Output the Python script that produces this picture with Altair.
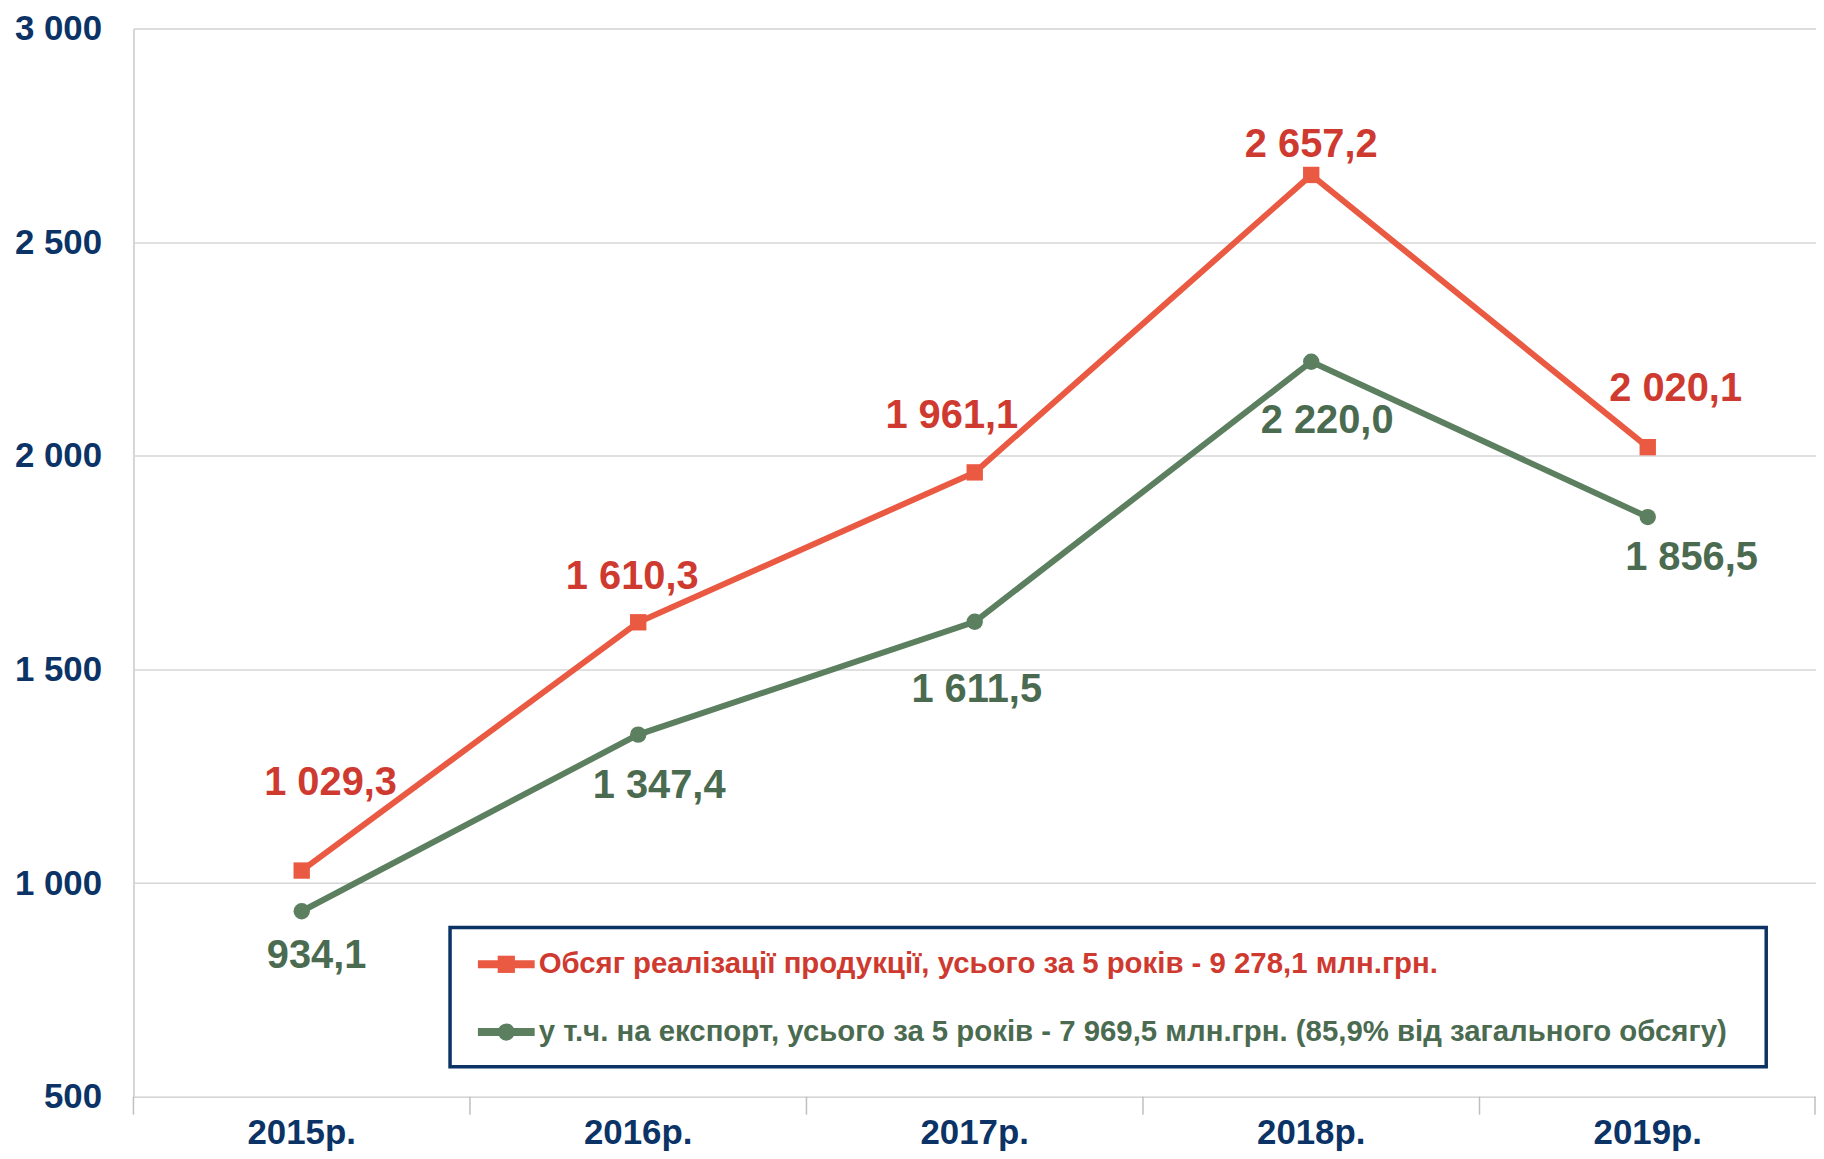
import altair as alt
import pandas as pd

# ---- data ----
years = ["2015р.", "2016р.", "2017р.", "2018р.", "2019р."]
total_sales = [1029.3, 1610.3, 1961.1, 2657.2, 2020.1]
export_sales = [934.1, 1347.4, 1611.5, 2220.0, 1856.5]
series_names = [
    "Обсяг реалізації продукції, усього за 5 років - 9 278,1 млн.грн.",
    "у т.ч. на експорт, усього за 5 років - 7 969,5 млн.грн. (85,9% від загального обсягу)",
]
y_ticks = [500, 1000, 1500, 2000, 2500, 3000]

# ---- style ----
W, H = 1690, 1073
NAVY = "#0B3366"
RED_LINE, RED_TEXT = "#EA5A43", "#CF3A30"
GREEN_LINE, GREEN_TEXT = "#5B7F5F", "#4B6B51"
GRID = "#D6D6D6"
FONT = "Liberation Sans"

# label offsets (pixels) for each point, per series
red_off = [(29, -88), (-6, -45), (-23, -57), (0, -30), (28, -58)]
green_off = [(15, 45), (21, 52), (2, 69), (16, 60), (44, 41)]


def fmt(v):
    return f"{v:,.1f}".replace(",", " ").replace(".", ",")


df = pd.DataFrame({
    "year": years * 2,
    "value": total_sales + export_sales,
    "series": ["total"] * 5 + ["export"] * 5,
    "label": [fmt(v) for v in total_sales + export_sales],
})

xscale = alt.Scale(domain=years, paddingInner=0, paddingOuter=0)
xenc = alt.X("year:N", sort=years, scale=xscale,
             axis=alt.Axis(title=None, ticks=False, domain=False, grid=False,
                           bandPosition=0.5,
                           labelFont=FONT, labelFontSize=35, labelFontWeight="bold",
                           labelColor=NAVY, labelPadding=47, labelAngle=0,
                           labelAlign="center", labelBaseline="alphabetic"))
yenc = alt.Y("value:Q",
             scale=alt.Scale(domain=[500, 3000], nice=False, zero=False),
             axis=alt.Axis(title=None, values=y_ticks, ticks=False,
                           domain=True, domainColor=GRID, domainWidth=2,
                           grid=True, gridColor=GRID, gridWidth=1.5,
                           labelFont=FONT, labelFontSize=35, labelFontWeight="bold",
                           labelColor=NAVY, labelPadding=32,
                           labelExpr="replace(format(datum.value, ','), ',', ' ')"))

base = alt.Chart(df)

layers = []
for key, lc, shape in [("total", RED_LINE, "square"), ("export", GREEN_LINE, "circle")]:
    sub = base.transform_filter(f"datum.series == '{key}'")
    layers.append(sub.mark_line(color=lc, strokeWidth=6).encode(x=xenc, y=yenc))
    layers.append(sub.mark_point(shape=shape, filled=True, color=lc, size=270,
                                 opacity=1).encode(x=xenc, y=yenc))

# x ticks at band edges
layers.append(base.transform_filter("datum.series == 'total'").mark_rule(
    color="#BFBFBF", strokeWidth=1.5).encode(
    x=alt.X("year:N", sort=years, bandPosition=0, scale=xscale),
    y=alt.value(H), y2=alt.value(H + 18)))
layers.append(alt.Chart(pd.DataFrame({"a": [0]})).mark_rule(
    color="#BFBFBF", strokeWidth=1.5).encode(
    x=alt.value(W - 1), y=alt.value(H), y2=alt.value(H + 18)))

for key, tc, offs in [("total", RED_TEXT, red_off), ("export", GREEN_TEXT, green_off)]:
    for yr, (dx, dy) in zip(years, offs):
        layers.append(base.transform_filter(
            f"datum.series == '{key}' && datum.year == '{yr}'").mark_text(
            font=FONT, fontSize=40, fontWeight="bold", color=tc,
            dx=dx, dy=dy, baseline="middle", align="center").encode(
            x=xenc, y=yenc, text="label:N"))

# ---- legend box (manual) ----
one = alt.Chart(pd.DataFrame({"a": [0]}))
BX0, BX1, BY0, BY1 = 318, 1640, 903, 1043
layers.append(one.mark_rect(fill="white", stroke=NAVY, strokeWidth=3.5).encode(
    x=alt.value(BX0), x2=alt.value(BX1), y=alt.value(BY0), y2=alt.value(BY1)))
rows = [(940, RED_LINE, RED_TEXT, "square", series_names[0]),
        (1008, GREEN_LINE, GREEN_TEXT, "circle", series_names[1])]
for ry, lc, tc, shape, name in rows:
    layers.append(one.mark_rule(color=lc, strokeWidth=8).encode(
        x=alt.value(346), x2=alt.value(403), y=alt.value(ry)))
    layers.append(one.mark_point(shape=shape, filled=True, color=lc, size=300,
                                 opacity=1).encode(x=alt.value(374.5), y=alt.value(ry)))
    layers.append(one.mark_text(font=FONT, fontSize=29.5, fontWeight="bold", color=tc,
                                align="left", baseline="middle").encode(
        x=alt.value(407), y=alt.value(ry), text=alt.value(name)))

chart = alt.layer(*layers).properties(
    width=W, height=H,
    autosize=alt.AutoSizeParams(type="none"),
    padding={"left": 126, "top": 18, "right": 0, "bottom": 60},
).configure_view(stroke=None).configure(background="white")

chart.save("out.html", embed_options={"renderer": "svg", "actions": False})
